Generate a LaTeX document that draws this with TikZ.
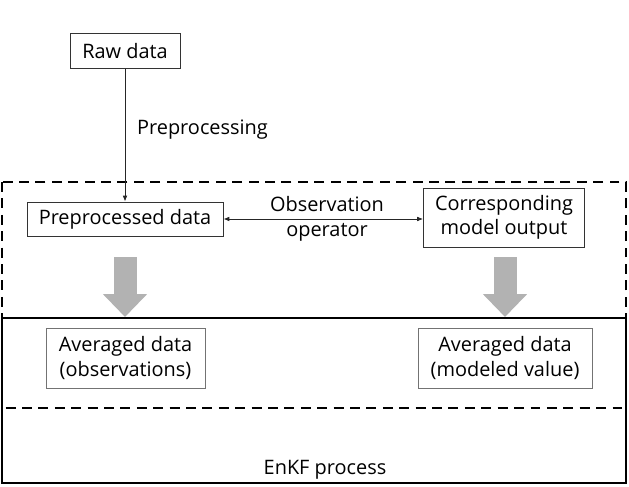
\documentclass[tikz,border=0pt]{standalone}
\usepackage{fontspec}
\setmainfont{Open Sans}
\usetikzlibrary{arrows.meta}
\def\u{0.03cm}
\tikzset{
  box/.style={draw=black!80, line width=0.8pt, inner sep=0pt, align=center,
    font=\fontsize{17}{21}\selectfont},
  avgbox/.style={box, draw=black!55},
  label/.style={font=\fontsize{17}{21}\selectfont, align=center},
  thin arrow/.style={black!85, line width=0.7pt},
  fat arrow/.style={black!30, line width=23*\u, -{Triangle[width=43*\u, length=23*\u]}}
}
\begin{document}
\begin{tikzpicture}[x=\u, y=-\u]
	\useasboundingbox (0,0) rectangle (629,486);
	% EnKF frame and observation frame
	\draw[line width=1.6pt] (2,318) rectangle (626,483);
	\draw[line width=1.8pt, dash pattern=on 8.5pt off 5.5pt] (2,182) rectangle (626,408);
	\node[label] (enkf) at (325,470) {EnKF process};
	% boxes
	\node[box, minimum width=110*\u, minimum height=35*\u] (raw) at (125,51) {Raw data};
	\node[box, minimum width=196*\u, minimum height=34*\u] (pre) at (125,219) {Preprocessed data};
	\node[box, minimum width=161*\u, minimum height=59*\u] (model) at (504,217.5) {Corresponding\\model output};
	\node[avgbox, minimum width=159*\u, minimum height=60*\u] (avgobs) at (125.5,358) {Averaged data\\(observations)};
	\node[avgbox, minimum width=174*\u, minimum height=60*\u] (avgmod) at (505,358) {Averaged data\\(modeled value)};
	% connectors
	\draw[thin arrow, -{Latex[length=5pt, width=4pt]}] (raw.south) -- (pre.north);
	\node[label, anchor=west] (prep) at (133,130) {Preprocessing};
	\draw[thin arrow, {Latex[length=5pt, width=4pt]}-{Latex[length=5pt, width=4pt]}] (pre.east) -- (pre.east -| model.west);
	\node[label] (obsop) at (327,219) {Observation\\operator};
	% averaging arrows
	\coordinate (l1) at (125,257);
	\coordinate (l2) at (125,317);
	\coordinate (r1) at (505,257);
	\coordinate (r2) at (505,317);
	\draw[fat arrow] (l1) -- (l2);
	\draw[fat arrow] (r1) -- (r2);
\end{tikzpicture}
\end{document}
